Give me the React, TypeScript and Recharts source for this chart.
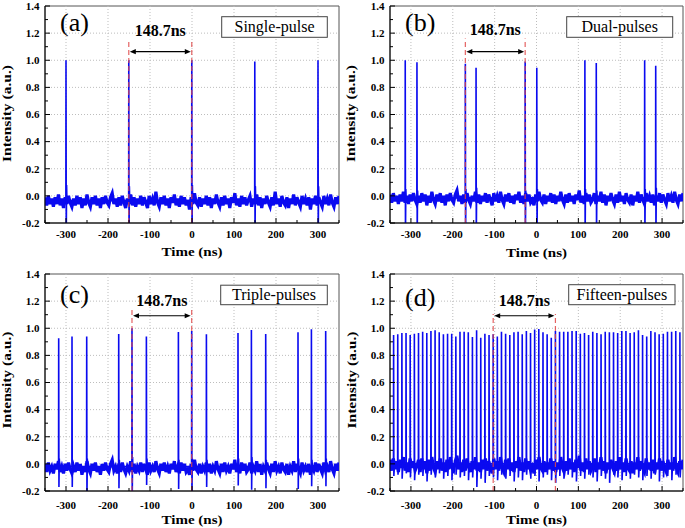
import React from 'react';
import { LineChart, Line, XAxis, YAxis, ReferenceLine, ReferenceArea } from 'recharts';

// ---------- axis ticks ----------
const xMajorTicks = [-300, -200, -100, 0, 100, 200, 300];
const xMinorTicks = [-350, -250, -150, -50, 50, 150, 250, 350];
const yMajorTicks = [-0.2, 0, 0.2, 0.4, 0.6, 0.8, 1.0, 1.2, 1.4];
const yMinorTicks = [-0.1, 0.1, 0.3, 0.5, 0.7, 0.9, 1.1, 1.3];
const xGridValues = [-300, -200, -100, 0, 100, 200, 300];
const yGridValues = [0, 0.2, 0.4, 0.6, 0.8, 1.0, 1.2];

// baseline samples: one every 4 ns starting at -350 ns, values in units of 0.01
const NOISE_START = -350;
const NOISE_STEP = 4;

// ---------- (a) single pulse ----------
const pulseBaseA = -0.035;
const pulseTimesA = [-300, -150.5, -0.5, 149.5, 300];
const pulseHeightsA = [1.0, 1.0, 1.0, 0.99, 1.0];
const pulseDipsA = [-0.3, -0.3, -0.3, -0.3, -0.3];
const pulseRingA = [0.08, 0.07, 0.08, 0.07, 0.07];
const markersA = [-150.5, -0.5];
const noiseA = [
  -1, -7, 0, -6, -2, -8, -1, -6, 1, -7,
  -2, -9, -1, -6, 0, -5, -8, -2, -7, 0,
  -6, -1, -9, -2, -7, 1, -5, -8, -1, -6,
  0, -7, -2, -9, -1, -6, 0, -5, -7, -1,
  2, -6, -2, -8, -1, -7, 0, -5, -9, -2,
  -6, 1, -7, -1, -8, -2, -6, 0, -7, -1,
  -5, -9, 0, -6, -2, -7, 3, -5, -8, -1,
  -6, 0, -7, -2, -9, -1, -5, 1, -7, -2,
  -8, 0, -6, -1, -7, -3, -10, -1, -6, 2,
  -5, -7, -1, -8, -2, -6, 0, -7, -1, -9,
  -2, -6, 1, -5, -8, -1, -7, 0, -6, -2,
  -9, -1, -5, 2, -7, -2, -8, 0, -6, -1,
  -7, -3, 0, -8, -2, -6, 1, -7, -1, -9,
  -2, -6, 0, -5, -8, -1, -7, 3, -6, -2,
  -8, 0, -5, -7, -1, -9, -2, -6, 1, -7,
  -1, -5, -8, 0, -6, -2, -7, -1, -10, -2,
  -6, 0, -7, -1, -5, -8, 0, -6, -2, -7,
  1, -5, -8, -1, -6, 0,
];

// ---------- (b) dual pulses ----------
const pulseBaseB = -0.015;
const pulseTimesB = [-313.6, -285.6, -170, -144.4, -27.1, 0.7, 115.6, 142.8, 258.4, 284.8];
const pulseHeightsB = [1.0, 0.985, 0.975, 0.945, 0.99, 0.945, 1.0, 0.98, 1.0, 0.96];
const pulseDipsB = [-0.3, -0.3, -0.3, -0.3, -0.3, -0.3, -0.3, -0.3, -0.3, -0.3];
const pulseRingB = [0.05, 0.04, 0.05, 0.06, 0.04, 0.05, 0.05, 0.04, 0.05, 0.06];
const markersB = [-170, -27.1];
const noiseB = [
  1, -5, 2, -4, 0, -6, 1, -4, 3, -5,
  0, -6, 1, -4, 2, -3, -6, 0, -5, 2,
  -4, 1, -7, 0, -5, 3, -3, -6, 1, -4,
  2, -5, 0, -7, 1, -4, 2, -3, -5, 1,
  4, -4, 0, -6, 1, -5, 2, -3, -6, 0,
  -4, 3, -5, 1, -6, 0, -4, 2, -5, 1,
  -3, -7, 2, -4, 0, -5, 3, -3, -6, 1,
  -4, 2, -5, 0, -6, 1, -3, 3, -5, 0,
  -6, 2, -4, 1, -5, -3, -7, 1, -4, 3,
  -3, -5, 1, -6, 0, -4, 2, -5, 1, -6,
  0, -4, 3, -3, -6, 1, -5, 2, -4, 0,
  -6, 1, -3, 4, -5, 0, -6, 2, -4, 1,
  -5, -3, 2, -6, 0, -4, 3, -5, 1, -7,
  0, -4, 2, -3, -6, 1, -5, 3, -4, 0,
  -6, 2, -3, -5, 1, -7, 0, -4, 3, -5,
  1, -3, -6, 2, -4, 0, -5, 1, -7, 0,
  -4, 2, -5, 1, -3, -6, 2, -4, 0, -5,
  3, -3, -6, 1, -4, 2,
];

// ---------- (c) triple pulses ----------
const pulseBaseC = -0.02;
const pulseTimesC = [-317.4, -285.7, -250.7, -174.5, -142.9, -108.6, -32.4, -0.7, 34.3, 109.5, 141.4, 175.5, 252.4, 284.3, 318.3];
const pulseHeightsC = [0.926, 0.94, 0.94, 0.958, 1.0, 0.94, 0.973, 0.98, 0.955, 0.965, 0.988, 0.958, 0.97, 0.993, 0.98];
const pulseDipsC = [-0.17, -0.17, -0.25, -0.18, -0.25, -0.155, -0.185, -0.25, -0.17, -0.16, -0.19, -0.18, -0.185, -0.165, -0.165];
const pulseRingC = [0.04, 0.03, 0.04, 0.03, 0.05, 0.04, 0.03, 0.04, 0.03, 0.04, 0.05, 0.03, 0.04, 0.03, 0.04];
const markersC = [-142.9, -0.7];
const noiseC = [
  0, -6, 1, -5, -2, -7, 0, -4, 2, -6,
  -2, -7, 0, -5, 1, -4, -7, -2, -6, 1,
  -5, 0, -8, -2, -6, 2, -4, -7, 0, -5,
  1, -6, -2, -8, 0, -5, 1, -4, -6, 0,
  3, -5, -2, -7, 0, -6, 1, -4, -7, -2,
  -5, 2, -6, 0, -7, -2, -5, 1, -6, 0,
  -4, -8, 1, -5, -2, -6, 2, -4, -7, 0,
  -5, 1, -6, -2, -7, 0, -4, 2, -6, -2,
  -7, 1, -5, 0, -6, -4, -8, 0, -5, 3,
  -4, -6, 0, -7, -2, -5, 1, -6, 0, -7,
  -2, -5, 2, -4, -7, 0, -6, 1, -5, -2,
  -7, 0, -4, 3, -6, -2, -7, 1, -5, 0,
  -6, -4, 1, -7, -2, -5, 2, -6, 0, -8,
  -2, -5, 1, -4, -7, 0, -6, 2, -5, -2,
  -7, 1, -4, -6, 0, -8, -2, -5, 2, -6,
  0, -4, -7, 1, -5, -2, -6, 0, -8, -2,
  -5, 1, -6, 0, -4, -7, 1, -5, -2, -6,
  2, -4, -7, 0, -5, 1,
];

// ---------- (d) fifteen pulses ----------
const pulseBaseD = 0.0;
const pulseTimesD = [
  -341.4, -331.5, -321.6, -311.7, -301.8, -291.8, -281.9, -272.0, -262.1, -252.2,
  -242.3, -232.4, -222.4, -212.5, -202.6, -192.7, -182.8, -172.9, -163.0, -153.1,
  -143.1, -133.2, -123.3, -113.4, -103.5, -93.6, -83.7, -73.8, -63.8, -53.9,
  -44.0, -34.1, -24.2, -14.3, -4.4, 5.5, 15.5, 25.4, 35.3, 45.2,
  55.1, 65.0, 74.9, 84.9, 94.8, 104.7, 114.6, 124.5, 134.4, 144.3,
  154.2, 164.2, 174.1, 184.0, 193.9, 203.8, 213.7, 223.6, 233.5, 243.5,
  253.4, 263.3, 273.2, 283.1, 293.0, 302.9, 312.9, 322.8, 332.7, 342.6,
];
const pulseHeightsD = [
  0.95, 0.955, 0.965, 0.965, 0.95, 0.96, 0.965, 0.975, 0.965, 0.98,
  0.985, 0.97, 0.955, 0.96, 0.96, 0.94, 0.975, 0.975, 0.97, 0.935,
  0.985, 0.93, 0.96, 0.95, 0.955, 0.94, 0.975, 0.96, 0.95, 0.97,
  0.975, 0.955, 0.98, 0.965, 0.99, 0.995, 0.97, 0.955, 0.93, 0.98,
  0.975, 0.975, 0.975, 0.98, 0.98, 0.96, 0.965, 0.95, 0.975, 0.965,
  0.955, 0.975, 0.97, 0.97, 0.965, 0.98, 0.98, 0.965, 0.97, 0.985,
  0.95, 0.94, 0.98, 0.97, 0.955, 0.96, 0.975, 0.975, 0.98, 0.97,
];
const pulseDipsD = [
  -0.09, -0.08, -0.11, -0.07, -0.1, -0.12, -0.08, -0.09, -0.13, -0.08,
  -0.1, -0.07, -0.11, -0.09, -0.12, -0.08, -0.1, -0.09, -0.12, -0.1,
  -0.17, -0.11, -0.14, -0.09, -0.1, -0.12, -0.08, -0.11, -0.09, -0.13,
  -0.1, -0.12, -0.08, -0.11, -0.09, -0.13, -0.1, -0.08, -0.12, -0.14,
  -0.09, -0.11, -0.08, -0.1, -0.13, -0.09, -0.11, -0.08, -0.1, -0.13,
  -0.09, -0.11, -0.14, -0.08, -0.1, -0.12, -0.09, -0.11, -0.08, -0.1,
  -0.12, -0.09, -0.11, -0.08, -0.13, -0.1, -0.09, -0.12, -0.08, -0.1,
];
const markersD = [-103.5, 45.2];
const noiseD = [
  3, -5, 4, -4, 2, -6, 3, -3, 5, -5,
  1, -6, 4, -3, 2, -5, -2, 3, -6, 4,
  -4, 2, -7, 3, -5, 5, -3, -6, 2, -4,
  4, -5, 1, -6, 3, -4, 5, -3, -5, 2,
  6, -4, 1, -6, 3, -5, 4, -2, -6, 2,
  -4, 5, -5, 1, -6, 3, -4, 4, -5, 2,
  -3, -7, 4, -4, 2, -5, 5, -3, -6, 3,
  -4, 4, -5, 1, -6, 2, -3, 5, -5, 1,
  -6, 4, -4, 2, -5, -2, -7, 3, -4, 5,
  -3, -5, 2, -6, 1, -4, 4, -5, 2, -6,
  1, -4, 5, -3, -6, 2, -5, 4, -4, 1,
  -6, 3, -3, 6, -5, 1, -6, 4, -4, 2,
  -5, -2, 4, -6, 1, -4, 5, -5, 2, -7,
  1, -4, 3, -3, -6, 2, -5, 5, -4, 1,
  -6, 4, -3, -5, 2, -7, 1, -4, 5, -5,
  2, -3, -6, 4, -4, 1, -5, 3, -7, 1,
  -4, 4, -5, 2, -3, -6, 3, -4, 1, -5,
  5, -3, -6, 2, -4, 3,
];

const periodLabel = '148.7ns';
const xTitle = 'Time (ns)';
const yTitle = 'Intensity (a.u.)';

// ---------- helpers ----------
const FONT = "'Times New Roman', 'Liberation Serif', 'DejaVu Serif', serif";
type Row = { t: number; n?: number; p?: number };

function buildSeries(
  noise: number[],
  base: number,
  times: number[],
  heights: number[],
  dips: number[],
  rings: number[] | null
): Row[] {
  const rows: Row[] = noise.map((n, i) => ({ t: NOISE_START + i * NOISE_STEP, n: n / 100 }));
  times.forEach((t, i) => {
    rows.push({ t: t - 0.3, p: base });
    rows.push({ t, p: heights[i] });
    rows.push({ t: t + 0.6, p: dips[i] });
    if (rings) rows.push({ t: t + 1.4, p: rings[i] });
    rows.push({ t: t + 2.2, p: base });
  });
  rows.sort((a, b) => a.t - b.t);
  return rows;
}

const isIn = (arr: number[], v: number) => arr.some((a) => Math.abs(a - v) < 1e-6);

function makeXTick(labelDy: number) {
  return (props: any) => {
    const { x, y, payload } = props;
    const major = isIn(xMajorTicks, payload.value);
    return (
      <g>
        <line x1={x} x2={x} y1={y} y2={y - (major ? 5 : 3)} stroke="#000" strokeWidth={1} />
        {major && (
          <text x={x} y={y + labelDy} textAnchor="middle" fontFamily={FONT} fontWeight="bold" fontSize={11} fill="#000">
            {String(payload.value)}
          </text>
        )}
      </g>
    );
  };
}

function YTick(props: any) {
  const { x, y, payload } = props;
  const major = isIn(yMajorTicks, payload.value);
  return (
    <g>
      <line x1={x} x2={x + (major ? 5 : 3)} y1={y} y2={y} stroke="#000" strokeWidth={1} />
      {major && (
        <text x={x - 5.5} y={y + 3.8} textAnchor="end" fontFamily={FONT} fontWeight="bold" fontSize={11} fill="#000">
          {Number(payload.value).toFixed(1)}
        </text>
      )}
    </g>
  );
}

function makeArrow(label: string, gap: number) {
  return (props: any) => {
    const { x1, x2, y1 } = props;
    const xa = Math.min(x1, x2) + 1;
    const xb = Math.max(x1, x2) - 1;
    const y = y1;
    const hl = 6;
    const hw = 2.6;
    return (
      <g>
        <line x1={xa + 3} x2={xb - 3} y1={y} y2={y} stroke="#000" strokeWidth={1.2} />
        <polygon points={`${xa},${y} ${xa + hl},${y - hw} ${xa + hl},${y + hw}`} fill="#000" />
        <polygon points={`${xb},${y} ${xb - hl},${y - hw} ${xb - hl},${y + hw}`} fill="#000" />
        <text x={(xa + xb) / 2} y={y - gap} textAnchor="middle" fontFamily={FONT} fontWeight="bold" fontSize={16} fill="#000">
          {label}
        </text>
      </g>
    );
  };
}

type PanelCfg = {
  key: string;
  left: number;
  top: number;
  width: number;
  height: number;
  marginTop: number;
  marginRight: number;
  xAxisHeight: number;
  tickDy: number;
  data: Row[];
  markers: number[];
  markerTop: number;
  arrowY: number;
  textGap: number;
};

const panels: PanelCfg[] = [
  {
    key: 'a', left: 0, top: 0, width: 345, height: 264, marginTop: 6, marginRight: 6, xAxisHeight: 41, tickDy: 14.5,
    data: buildSeries(noiseA, pulseBaseA, pulseTimesA, pulseHeightsA, pulseDipsA, pulseRingA),
    markers: markersA, markerTop: 1.149, arrowY: 1.063, textGap: 16,
  },
  {
    key: 'b', left: 345, top: 0, width: 340, height: 264, marginTop: 6, marginRight: 2, xAxisHeight: 41, tickDy: 14.5,
    data: buildSeries(noiseB, pulseBaseB, pulseTimesB, pulseHeightsB, pulseDipsB, pulseRingB),
    markers: markersB, markerTop: 1.161, arrowY: 1.063, textGap: 17,
  },
  {
    key: 'c', left: 0, top: 264, width: 345, height: 264, marginTop: 10, marginRight: 6, xAxisHeight: 37, tickDy: 17.5,
    data: buildSeries(noiseC, pulseBaseC, pulseTimesC, pulseHeightsC, pulseDipsC, pulseRingC),
    markers: markersC, markerTop: 1.154, arrowY: 1.092, textGap: 10,
  },
  {
    key: 'd', left: 345, top: 264, width: 340, height: 264, marginTop: 10, marginRight: 2, xAxisHeight: 37, tickDy: 17.5,
    data: buildSeries(noiseD, pulseBaseD, pulseTimesD, pulseHeightsD, pulseDipsD, null),
    markers: markersD, markerTop: 1.105, arrowY: 1.092, textGap: 10,
  },
];

const overlay = [
  { tag: '(a)', tagX: 60, tagY: 30.5, leg: 'Single-pulse', box: [221.7, 16.7, 105.6, 20.6], legY: 32.3, titleX: 192, titleY: 256, yTitleX: 10.8, yTitleY: 113.5 },
  { tag: '(b)', tagX: 405, tagY: 30.5, leg: 'Dual-pulses', box: [566.7, 16.7, 106, 20.6], legY: 32.3, titleX: 536.5, titleY: 256.5, yTitleX: 354.6, yTitleY: 113.5 },
  { tag: '(c)', tagX: 60, tagY: 302.5, leg: 'Triple-pulses', box: [220.7, 285.2, 106.6, 19.5], legY: 300.3, titleX: 192, titleY: 524, yTitleX: 11.3, yTitleY: 380 },
  { tag: '(d)', tagX: 405, tagY: 306, leg: 'Fifteen-pulses', box: [568.7, 284.7, 106.3, 20], legY: 300.3, titleX: 536.5, titleY: 523.5, yTitleX: 355.6, yTitleY: 380 },
];

function Panel({ cfg }: { cfg: PanelCfg }) {
  const XTick = makeXTick(cfg.tickDy);
  return (
    <div style={{ position: 'absolute', left: cfg.left, top: cfg.top, width: cfg.width, height: cfg.height }}>
      <LineChart
        width={cfg.width}
        height={cfg.height}
        data={cfg.data}
        margin={{ top: cfg.marginTop, right: cfg.marginRight, bottom: 0, left: 0 }}
      >
        <XAxis
          type="number"
          dataKey="t"
          domain={[-350, 350]}
          allowDataOverflow
          ticks={[...xMajorTicks, ...xMinorTicks]}
          interval={0}
          height={cfg.xAxisHeight}
          tickSize={0}
          tickMargin={0}
          tickLine={false}
          tick={XTick}
          axisLine={{ stroke: '#000', strokeWidth: 1 }}
        />
        <YAxis
          type="number"
          domain={[-0.2, 1.4]}
          allowDataOverflow
          ticks={[...yMajorTicks, ...yMinorTicks]}
          interval={0}
          width={45}
          tickSize={0}
          tickMargin={0}
          tickLine={false}
          tick={YTick}
          axisLine={{ stroke: '#000', strokeWidth: 1 }}
        />
        {xGridValues.map((v) => (
          <ReferenceLine key={'gx' + v} x={v} stroke="#bdbdbd" strokeDasharray="1 2" strokeWidth={1} />
        ))}
        {yGridValues.map((v) => (
          <ReferenceLine key={'gy' + v} y={v} stroke="#bdbdbd" strokeDasharray="1 2" strokeWidth={1} />
        ))}
        <ReferenceArea x1={-350} x2={350} y1={-0.2} y2={1.4} fill="none" fillOpacity={0} stroke="#555" strokeWidth={1} />
        <Line
          type="linear"
          dataKey="n"
          connectNulls
          stroke="#0a0af0"
          strokeWidth={3.2}
          strokeLinejoin="miter"
          dot={false}
          activeDot={false}
          isAnimationActive={false}
        />
        <Line
          type="linear"
          dataKey="p"
          connectNulls
          stroke="#0a0af0"
          strokeWidth={1.6}
          dot={false}
          activeDot={false}
          isAnimationActive={false}
        />
        {cfg.markers.map((m) => (
          <ReferenceLine
            key={'m' + m}
            segment={[{ x: m, y: -0.2 }, { x: m, y: cfg.markerTop }]}
            stroke="#e04848"
            strokeOpacity={0.85}
            strokeDasharray="5 3"
            strokeWidth={1.2}
          />
        ))}
        <ReferenceLine
          segment={[{ x: cfg.markers[0], y: cfg.arrowY }, { x: cfg.markers[1], y: cfg.arrowY }]}
          shape={makeArrow(periodLabel, cfg.textGap)}
        />
      </LineChart>
    </div>
  );
}

export default function App() {
  return (
    <div style={{ position: 'absolute', left: 0, top: 0, width: 685, height: 528, background: '#fff', overflow: 'hidden' }}>
      {panels.map((p) => (
        <Panel key={p.key} cfg={p} />
      ))}
      <svg width={685} height={528} style={{ position: 'absolute', left: 0, top: 0, pointerEvents: 'none' }}>
        {overlay.map((o) => (
          <g key={o.tag}>
            <text x={o.tagX} y={o.tagY} fontFamily={FONT} fontSize={26} fill="#000">{o.tag}</text>
            <rect x={o.box[0]} y={o.box[1]} width={o.box[2]} height={o.box[3]} fill="#fff" stroke="#444" strokeWidth={1} />
            <text x={o.box[0] + o.box[2] / 2} y={o.legY} textAnchor="middle" fontFamily={FONT} fontSize={16} fill="#000">{o.leg}</text>
            <text
              x={o.titleX}
              y={o.titleY}
              textAnchor="middle"
              fontFamily={FONT}
              fontWeight="bold"
              fontSize={13.5}
              textLength={61}
              lengthAdjust="spacingAndGlyphs"
              fill="#000"
            >
              {xTitle}
            </text>
            <text
              transform={`translate(${o.yTitleX},${o.yTitleY}) rotate(-90)`}
              textAnchor="middle"
              fontFamily={FONT}
              fontWeight="bold"
              fontSize={13.5}
              textLength={97}
              lengthAdjust="spacingAndGlyphs"
              fill="#000"
            >
              {yTitle}
            </text>
          </g>
        ))}
      </svg>
    </div>
  );
}
